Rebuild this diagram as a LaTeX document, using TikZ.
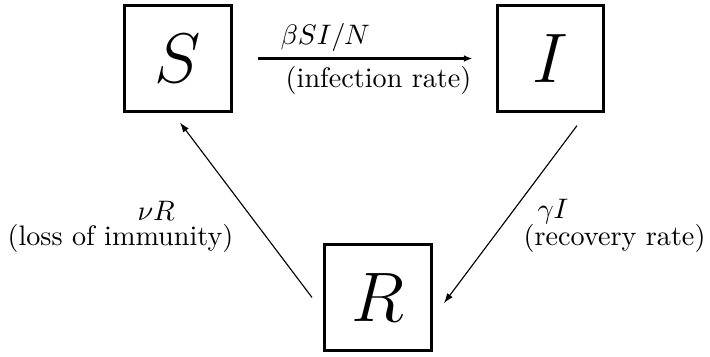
\documentclass[tikz,border=0pt]{standalone}
\usepackage{amsmath}
\usepackage{amssymb}
\usetikzlibrary{arrows.meta,positioning}

\begin{document}
\begin{tikzpicture}[x=0.01246cm,y=-0.01246cm,
		comp/.style={rectangle,draw=black,line width=1.06pt,minimum size=1.333cm,inner sep=0mm,font=\fontsize{23}{28}\selectfont},
		rate/.style={inner sep=0mm},
		flow/.style={line width=0.4pt,-{Latex[length=3.5pt,width=2.4pt]}}]
	\useasboundingbox (0,0) rectangle (710,356);

	\node[comp] (S) at (178,58.5) {$S$};
	\node[comp] (I) at (550.5,58.5) {$I$};
	\node[comp] (R) at (378,297.5) {$R$};

	\draw[line width=1.06pt,-{Latex[length=3pt,width=2.4pt]},shorten <=8.9pt,shorten >=8.2pt] (S) -- (I);
	\draw[flow] ([xshift=-3.9pt]R.west) -- ([xshift=0.7pt,yshift=-3.2pt]S.south); %back to susceptible
	\draw[flow] ([xshift=9.4pt,yshift=-4.3pt]I.south) -- ([xshift=3.9pt,yshift=-2pt]R.east);

	\node[rate,anchor=base west] (infl) at (280,44) {$\beta SI/N$};
	\node[rate,anchor=base east] (infr) at (472,87) {(infection rate)};
	\node[rate,anchor=base west] (lossl) at (137,220) {$\nu R$};
	\node[rate,anchor=base west] (lossr) at (7,245) {(loss of immunity)};
	\node[rate,anchor=base west] (recl) at (537,218) {$\gamma I$};
	\node[rate,anchor=base west] (recr) at (523,245) {(recovery rate)};
\end{tikzpicture}
\end{document}
